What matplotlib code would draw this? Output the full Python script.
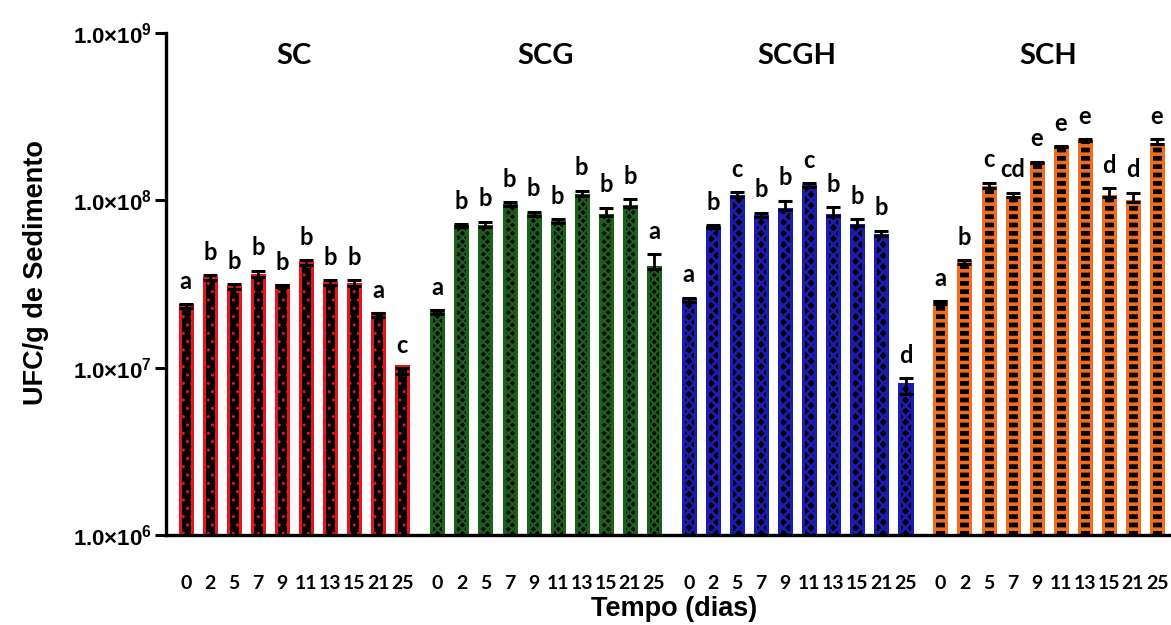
import matplotlib
matplotlib.use("Agg")
import matplotlib.pyplot as plt
import numpy as np
from matplotlib.ticker import FixedLocator, NullLocator

# ---------------- data ----------------
days = ["0", "2", "5", "7", "9", "11", "13", "15", "21", "25"]
groups = ["SC", "SCG", "SCGH", "SCH"]

sc_vals = [2.26e7, 3.33e7, 2.94e7, 3.48e7, 3.01e7, 4.09e7, 3.09e7, 3.07e7, 2.01e7, 9.15e6]
sc_err = [0.13e7, 0.24e7, 0.21e7, 0.30e7, 0.08e7, 0.29e7, 0.22e7, 0.26e7, 0.11e7, 0.08e7]
sc_letters = ["a", "b", "b", "b", "b", "b", "b", "b", "a", "c"]

scg_vals = [2.09e7, 6.87e7, 6.90e7, 9.25e7, 8.06e7, 7.26e7, 1.061e8, 8.03e7, 9.08e7, 3.86e7]
scg_err = [0.12e7, 0.29e7, 0.52e7, 0.43e7, 0.45e7, 0.41e7, 0.75e7, 0.97e7, 1.05e7, 0.90e7]
scg_letters = ["a", "b", "b", "b", "b", "b", "b", "b", "b", "a"]

scgh_vals = [2.45e7, 6.83e7, 1.042e8, 7.95e7, 8.72e7, 1.20e8, 8.06e7, 6.97e7, 6.12e7, 6.92e6]
scgh_err = [0.16e7, 0.26e7, 0.70e7, 0.45e7, 1.20e7, 0.67e7, 0.98e7, 0.70e7, 0.44e7, 0.17e7]
scgh_letters = ["a", "b", "c", "b", "b", "c", "b", "b", "b", "d"]

sch_vals = [2.38e7, 4.15e7, 1.184e8, 1.038e8, 1.656e8, 2.06e8, 2.25e8, 1.046e8, 9.77e7, 2.15e8]
sch_err = [0.12e7, 0.23e7, 0.84e7, 0.70e7, 0.40e7, 0.37e7, 0.54e7, 1.27e7, 1.29e7, 1.53e7]
sch_letters = ["a", "b", "c", "cd", "e", "e", "e", "d", "d", "e"]

ytick_vals = [1e6, 1e7, 1e8, 1e9]
ytick_labels = [r"$\mathrm{1.0×10^{6}}$", r"$\mathrm{1.0×10^{7}}$",
                r"$\mathrm{1.0×10^{8}}$", r"$\mathrm{1.0×10^{9}}$"]

all_vals = [sc_vals, scg_vals, scgh_vals, sch_vals]
all_err = [sc_err, scg_err, scgh_err, sch_err]
all_letters = [sc_letters, scg_letters, scgh_letters, sch_letters]

# ---------------- style ----------------
colors = ["#e3161c", "#1d601d", "#1c1cb2", "#f26c20"]
hatches = ["..", "xxxx", "xxx", "--"]
hatch_lw = [1.0, 1.6, 1.9, 2.6]
group_step = 10.45
bar_w = 0.5

plt.rcParams["mathtext.fontset"] = "custom"
plt.rcParams["mathtext.rm"] = "Liberation Sans:bold"
plt.rcParams["mathtext.it"] = "Liberation Sans:bold"
plt.rcParams["mathtext.bf"] = "Liberation Sans:bold"

fig = plt.figure(figsize=(11.71, 6.25), dpi=100)
ax = fig.add_axes([0.1418, 0.144, 0.8582, 0.804])
ax.set_yscale("log")
ax.set_ylim(1e6, 1e9)

tick_pos = []
tick_lab = []
for g, (vals, errs, lets) in enumerate(zip(all_vals, all_err, all_letters)):
    xs = np.arange(len(vals)) + g * group_step
    with plt.rc_context({"hatch.linewidth": hatch_lw[g]}):
        ax.bar(xs, vals, width=bar_w, bottom=1e6, facecolor="black",
               edgecolor=colors[g], linewidth=2.2, hatch=hatches[g], zorder=2)
    ax.errorbar(xs, vals, yerr=[np.zeros(len(vals)), errs], fmt="none",
                ecolor="black", elinewidth=2.0, capsize=5, capthick=2.2, zorder=3)
    for x, v, e, t in zip(xs, vals, errs, lets):
        ax.annotate(t, (x, v + e), xytext=(0, 11), textcoords="offset points",
                    ha="center", va="baseline", fontsize=17, fontweight="bold",
                    family="Lato", color="black", zorder=4)
    ax.text(xs.mean(), 0.937, groups[g], transform=ax.get_xaxis_transform(),
            ha="center", va="baseline", fontsize=21, fontweight="bold",
            family="Lato", color="black")
    tick_pos.extend(xs)
    tick_lab.extend(days)

ax.set_xlim(-0.82, 9 + 3 * group_step + 0.58)
ax.set_xticks(tick_pos)
ax.set_xticklabels(tick_lab, fontsize=14, fontweight="bold", family="Lato")
ax.tick_params(axis="x", length=0, pad=29)

ax.yaxis.set_major_locator(FixedLocator(ytick_vals))
ax.yaxis.set_minor_locator(NullLocator())
ax.set_yticklabels(ytick_labels, fontsize=16)
ax.tick_params(axis="y", length=8, width=2.2, pad=2, direction="out")

for s in ["top", "right"]:
    ax.spines[s].set_visible(False)
for s in ["left", "bottom"]:
    ax.spines[s].set_linewidth(2.4)
    ax.spines[s].set_color("black")

fig.text(36 / 1171, 1 - 273 / 625, "UFC/g de Sedimento", rotation=90,
         ha="center", va="center", fontsize=19.5, fontweight="bold",
         family="Liberation Sans")
fig.text(674 / 1171, 1 - 609 / 625, "Tempo (dias)", ha="center", va="center",
         fontsize=19.5, fontweight="bold", family="Liberation Sans")

fig.savefig("out.png", dpi=100)
